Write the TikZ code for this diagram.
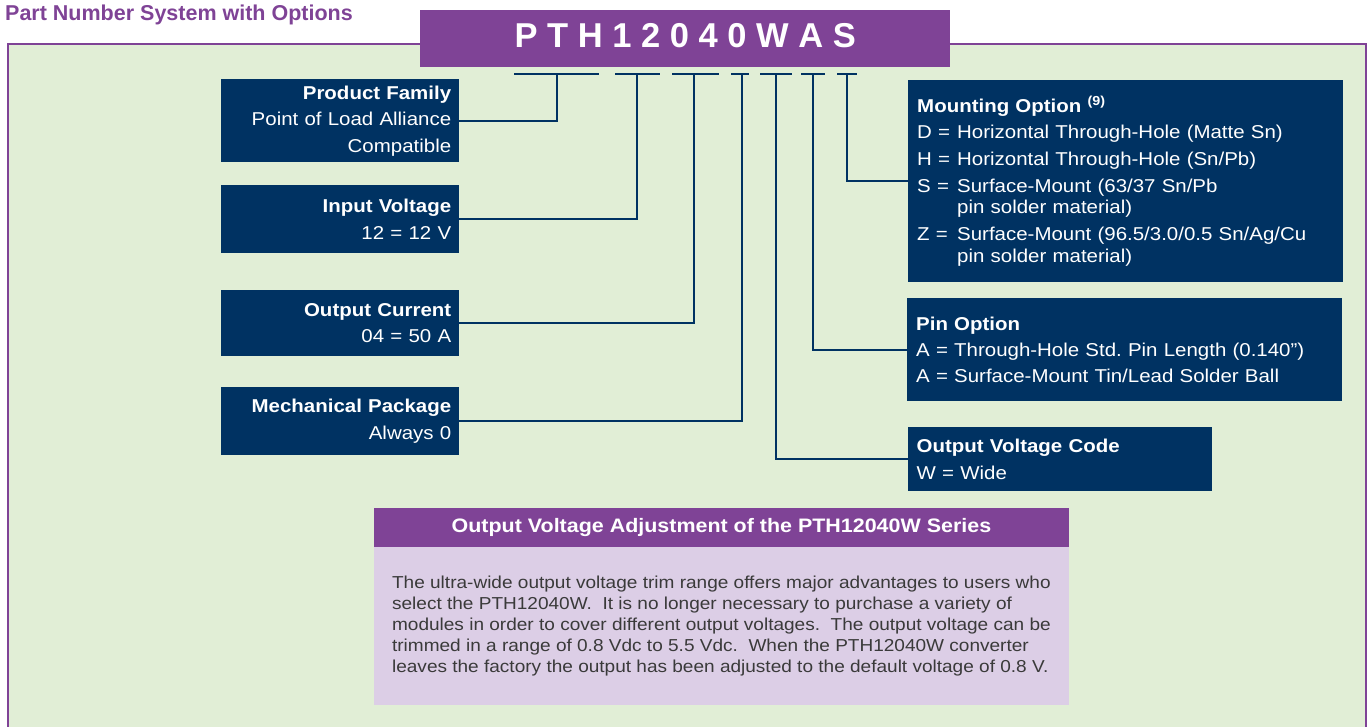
\documentclass[tikz,border=0pt]{standalone}
\usepackage{fontspec}
\setmainfont{Liberation Sans}[FakeStretch=1.1]
\newfontfamily\plainsans{Liberation Sans}
\frenchspacing
\definecolor{tipurple}{HTML}{7F4396}
\definecolor{tinavy}{HTML}{003262}
\definecolor{tigreen}{HTML}{E1EED6}
\definecolor{tililac}{HTML}{DCCEE6}
\definecolor{tigray}{HTML}{3A3A3A}
\tikzset{
  conn/.style={draw=tinavy, line width=2pt},
  lbox/.style={fill=tinavy, text=white, anchor=north west, align=right,
    text width=222pt, inner xsep=8pt, inner ysep=0pt,
    font=\fontsize{18.6}{21.5}\selectfont},
  rbox/.style={fill=tinavy, text=white, anchor=north west, align=left,
    inner xsep=9pt, inner ysep=0pt,
    font=\fontsize{18.6}{21.5}\selectfont},
}
\newcommand{\itm}[1]{\makebox[40pt][l]{#1}}
\begin{document}
\begin{tikzpicture}[x=1pt,y=-1pt]
\useasboundingbox (0,0) rectangle (1368,727);
% panel
\draw[tipurple, line width=2.5pt, fill=tigreen] (8,44) rectangle (1366,780);
% title
\node[anchor=base west, inner sep=0pt, text=tipurple,
  font=\plainsans\bfseries\fontsize{21.5}{24}\selectfont] (title) at (5,21) {Part Number System with Options};
% header
\node[fill=tipurple, text=white, anchor=north west, minimum width=530pt, minimum height=57pt,
  inner sep=0pt, text height=24.3pt, text depth=7pt,
  font=\plainsans\bfseries\fontsize{34.5}{40}\selectfont] (hdr) at (420,10) {P T H 1 2 0 4 0 W A S};
% underline segments and junctions
\coordinate (a1) at (514,74); \coordinate (b1) at (599,74); \coordinate (j1) at (557,74);
\coordinate (a2) at (615,74); \coordinate (b2) at (660,74); \coordinate (j2) at (636.5,74);
\coordinate (a3) at (672,74); \coordinate (b3) at (719,74); \coordinate (j3) at (694,74);
\coordinate (a4) at (731,74); \coordinate (b4) at (749,74); \coordinate (j4) at (742,74);
\coordinate (a5) at (760,74); \coordinate (b5) at (792,74); \coordinate (j5) at (776,74);
\coordinate (a6) at (801,74); \coordinate (b6) at (825,74); \coordinate (j6) at (812.5,74);
\coordinate (a7) at (837,74); \coordinate (b7) at (857,74); \coordinate (j7) at (847,74);
\foreach \i in {1,...,7} { \draw[conn] (a\i) -- (b\i); }
% left boxes
\node[lbox, minimum height=83pt] (pf) at (221,79)
  {\textbf{Product Family}\\[5pt]Point of Load Alliance\\[5pt]Compatible};
\node[lbox, minimum height=68pt] (iv) at (221,185)
  {\textbf{Input Voltage}\\[5pt]12 = 12 V};
\node[lbox, minimum height=66pt] (oc) at (221,290)
  {\textbf{Output Current}\\[5pt]04 = 50 A};
\node[lbox, minimum height=68pt] (mp) at (221,387)
  {\textbf{Mechanical Package}\\[5pt]Always 0};
% right boxes
\node[rbox, text width=417pt, minimum height=202pt] (mo) at (908,80)
  {\textbf{Mounting Option \textsuperscript{(9)}}\\[5.2pt]
   \itm{D =}Horizontal Through-Hole (Matte Sn)\\[5.2pt]
   \itm{H =}Horizontal Through-Hole (Sn/Pb)\\[5.2pt]
   \itm{S =}Surface-Mount (63/37 Sn/Pb\\
   \hspace*{40pt}pin solder material)\\[5.2pt]
   \itm{Z =}Surface-Mount (96.5/3.0/0.5 Sn/Ag/Cu\\
   \hspace*{40pt}pin solder material)};
\node[rbox, text width=417pt, minimum height=103pt] (po) at (907,298)
  {\textbf{Pin Option}\\[5pt]A = Through-Hole Std. Pin Length (0.140”)\\[4pt]A = Surface-Mount Tin/Lead Solder Ball};
\node[rbox, text width=286pt, minimum height=64pt] (ovc) at (907.5,427)
  {\textbf{Output Voltage Code}\\[5pt]W = Wide};
% connectors
\draw[conn] (pf.east) -| (j1);
\draw[conn] (iv.east) -| (j2);
\draw[conn] (oc.east) -| (j3);
\draw[conn] (mp.east) -| (j4);
\draw[conn] (ovc.west) -| (j5);
\draw[conn] (po.west) -| (j6);
\draw[conn] (mo.west) -| (j7);
% bottom box
\node[fill=tipurple, text=white, anchor=north west, minimum width=695.5pt, minimum height=39pt,
  inner sep=0pt, font=\bfseries\fontsize{19.5}{22}\selectfont] (adjh) at (373.5,508)
  {Output Voltage Adjustment of the PTH12040W Series};
\node[fill=tililac, text=tigray, anchor=north west, minimum width=695.5pt, minimum height=158pt,
  inner sep=0pt, align=left, font=\fontsize{17.3}{21}\selectfont] (adjb) at (373.5,547)
  {The ultra-wide output voltage trim range offers major advantages to users who\\
   select the PTH12040W.~ It is no longer necessary to purchase a variety of\\
   modules in order to cover different output voltages.~ The output voltage can be\\
   trimmed in a range of 0.8 Vdc to 5.5 Vdc.~ When the PTH12040W converter\\
   leaves the factory the output has been adjusted to the default voltage of 0.8 V.};
\end{tikzpicture}
\end{document}
